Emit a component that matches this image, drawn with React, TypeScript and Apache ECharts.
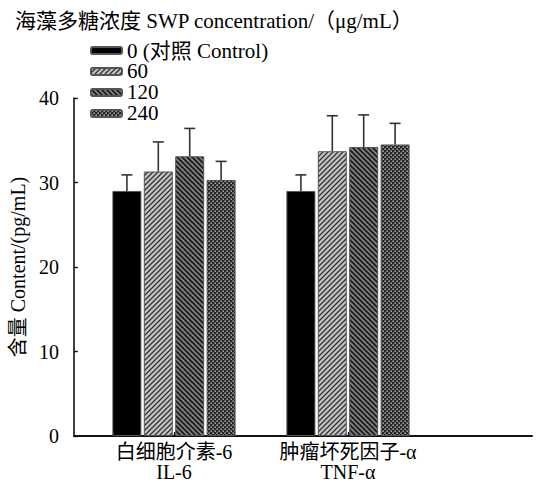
import React, { useEffect, useRef } from "react";
import * as echarts from "echarts";

const titleText = "海藻多糖浓度 SWP concentration/（μg/mL）";
const yAxisName = "含量 Content/(pg/mL)";
const categories = ["白细胞介素-6\nIL-6", "肿瘤坏死因子-α\nTNF-α"];
const groupNames = ["0 (对照 Control)", "60", "120", "240"];
const means0 = [29.0, 29.0];
const means60 = [31.3, 33.7];
const means120 = [33.1, 34.2];
const means240 = [30.3, 34.5];
const err0 = [1.9, 1.9];
const err60 = [3.5, 4.2];
const err120 = [3.3, 3.8];
const err240 = [2.2, 2.5];
const yTicks = [0, 10, 20, 30, 40];

const FONT = "Liberation Serif, Noto Sans CJK SC";

function makePattern(kind: string): any {
  const c = document.createElement("canvas");
  const s = kind === "dots" ? 4 : 5;
  c.width = s;
  c.height = s;
  const g = c.getContext("2d")!;
  if (kind === "fwd") {
    g.fillStyle = "#c4c4c4";
    g.fillRect(0, 0, s, s);
    g.strokeStyle = "#333";
    g.lineWidth = 1.3;
    g.beginPath();
    g.moveTo(-1, s + 1); g.lineTo(s + 1, -1);
    g.moveTo(-1, 1); g.lineTo(1, -1);
    g.moveTo(s - 1, s + 1); g.lineTo(s + 1, s - 1);
    g.stroke();
  } else if (kind === "back") {
    g.fillStyle = "#808080";
    g.fillRect(0, 0, s, s);
    g.strokeStyle = "#1a1a1a";
    g.lineWidth = 1.7;
    g.beginPath();
    g.moveTo(-1, -1); g.lineTo(s + 1, s + 1);
    g.moveTo(s - 1, -1); g.lineTo(s + 1, 1);
    g.moveTo(-1, s - 1); g.lineTo(1, s + 1);
    g.stroke();
  } else {
    g.fillStyle = "#262626";
    g.fillRect(0, 0, s, s);
    g.fillStyle = "#e0e0e0";
    g.fillRect(0.5, 0.5, 1.3, 1.3);
    g.fillRect(2.5, 2.5, 1.3, 1.3);
  }
  return { image: c, repeat: "repeat" };
}

export default function App() {
  const ref = useRef<HTMLDivElement>(null);
  useEffect(() => {
    if (!ref.current) return;
    const chart = echarts.init(ref.current, null, { renderer: "svg" });
    const colors: any[] = ["#000000", makePattern("fwd"), makePattern("back"), makePattern("dots")];
    const means = [means0, means60, means120, means240];
    const errs = [err0, err60, err120, err240];
    const barW = 29;
    const gapPx = 2.4;
    const barSeries = groupNames.map((name, i) => ({
      type: "bar",
      name,
      xAxisIndex: 0,
      yAxisIndex: 0,
      data: means[i],
      barWidth: barW,
      barGap: (gapPx / barW) * 100 + "%",
      itemStyle: { color: colors[i], borderColor: "#555", borderWidth: 1 },
      z: 2,
    }));
    const errSeries = groupNames.map((name, i) => ({
      type: "custom",
      name: name + " err",
      xAxisIndex: 0,
      yAxisIndex: 0,
      z: 3,
      data: means[i].map((m, k) => [k, m, errs[i][k]]),
      renderItem: (params: any, api: any) => {
        const offset = (i - 1.5) * (barW + gapPx);
        const x = api.coord([api.value(0), 0])[0] + offset;
        const yBase = api.coord([api.value(0), api.value(1)])[1];
        const yTop = api.coord([api.value(0), api.value(1) + api.value(2)])[1];
        const style = { stroke: "#333", lineWidth: 1.6 };
        return {
          type: "group",
          children: [
            { type: "line", shape: { x1: x, y1: yBase, x2: x, y2: yTop }, style },
            { type: "line", shape: { x1: x - 5.5, y1: yTop, x2: x + 5.5, y2: yTop }, style },
          ],
        };
      },
    }));
    chart.setOption({
      animation: false,
      textStyle: { fontFamily: FONT },
      title: {
        text: titleText,
        left: 10,
        top: 5,
        textStyle: { fontFamily: FONT, fontSize: 21, fontWeight: "normal", color: "#000" },
      },
      legend: {
        data: groupNames,
        orient: "vertical",
        left: 90,
        top: 40,
        itemWidth: 31,
        itemHeight: 7,
        itemGap: 0,
        padding: 0,
        textStyle: { fontFamily: FONT, fontSize: 21, color: "#000", lineHeight: 14.7 },
      },
      grid: [
        { left: 87, width: 348, top: 98, bottom: 48 },
        { left: 68, right: 4, top: 98, bottom: 48 },
      ],
      xAxis: [
        {
          type: "category",
          gridIndex: 0,
          data: categories,
          axisLine: { show: false },
          axisTick: { show: true, inside: true, alignWithLabel: true, length: 4, lineStyle: { color: "#000", width: 1.2 } },
          axisLabel: { interval: 0, fontFamily: FONT, fontSize: 20, color: "#000", margin: 6, lineHeight: 20 },
        },
        {
          type: "value",
          gridIndex: 1,
          min: 0,
          max: 1,
          axisLine: { show: true, lineStyle: { color: "#111", width: 2 } },
          axisTick: { show: false },
          axisLabel: { show: false },
          splitLine: { show: false },
        },
      ],
      yAxis: [
        {
          type: "value",
          gridIndex: 0,
          min: 0,
          max: 40,
          interval: 10,
          show: false,
          splitLine: { show: false },
        },
        {
          type: "value",
          gridIndex: 1,
          min: yTicks[0],
          max: yTicks[yTicks.length - 1],
          interval: 10,
          name: yAxisName,
          nameLocation: "middle",
          nameGap: 44,
          nameTextStyle: { fontFamily: FONT, fontSize: 20, color: "#000" },
          axisLine: { show: true, lineStyle: { color: "#111", width: 1.6 } },
          axisTick: { show: true, inside: true, length: 4, lineStyle: { color: "#111", width: 1.4 } },
          axisLabel: { fontFamily: FONT, fontSize: 20, color: "#000", margin: 15 },
          splitLine: { show: false },
        },
      ],
      series: [...barSeries, ...errSeries],
    });
    return () => chart.dispose();
  }, []);
  return <div ref={ref} style={{ width: 536, height: 484, position: "absolute", left: 0, top: 0 }} />;
}
